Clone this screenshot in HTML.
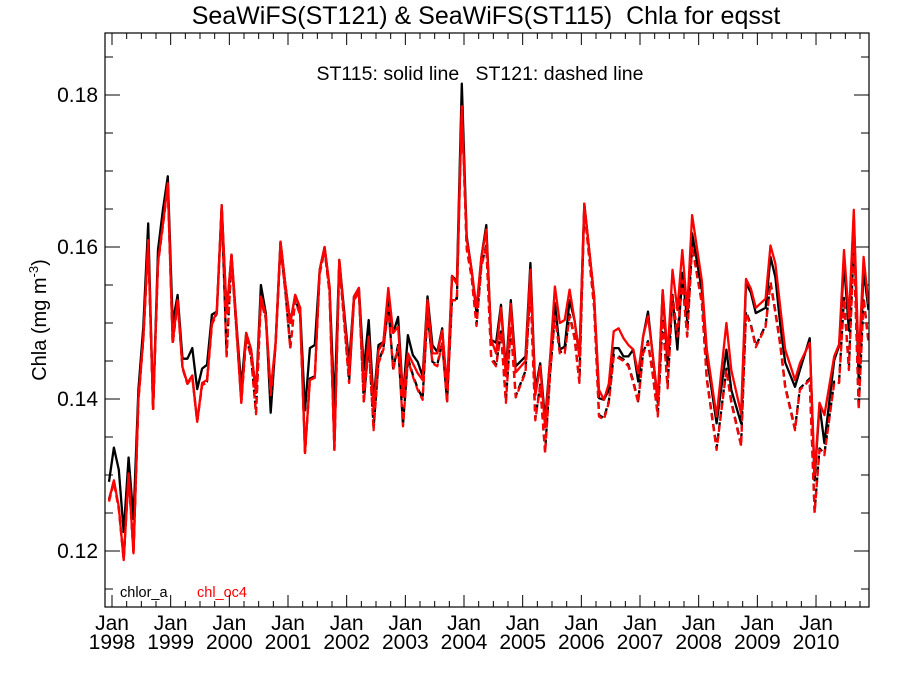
<!DOCTYPE html>
<html><head><meta charset="utf-8"><style>
html,body{margin:0;padding:0;background:#fff;}
svg{display:block;font-family:"Liberation Sans",Arial,sans-serif;}
</style></head><body>
<svg id="chart" width="900" height="675" viewBox="0 0 900 675" xmlns="http://www.w3.org/2000/svg">
<rect x="0" y="0" width="900" height="675" fill="#fff"/>
<text x="486" y="24" font-size="25" text-anchor="middle" fill="#000" xml:space="preserve">SeaWiFS(ST121) &amp; SeaWiFS(ST115)  Chla for eqsst</text>
<text x="480" y="80" font-size="19.5" text-anchor="middle" fill="#000" xml:space="preserve">ST115: solid line   ST121: dashed line</text>
<text transform="translate(46,320) rotate(-90)" font-size="20" text-anchor="middle" fill="#000">Chla (mg m<tspan font-size="13" dy="-8">-3</tspan><tspan dy="8">)</tspan></text>
<text x="120" y="597" font-size="14.5" fill="#000">chlor_a</text>
<text x="197" y="597" font-size="14.5" fill="#f00">chl_oc4</text>
<defs><clipPath id="plotclip"><rect x="105" y="33" width="764" height="574"/></clipPath></defs>
<g id="axes"></g>
<g id="series" clip-path="url(#plotclip)"></g>
<rect x="105" y="33" width="764" height="574" fill="none" stroke="#000" stroke-width="1.2"/>
</svg>
<script>
const yTicks = [0.12, 0.14, 0.16, 0.18];
const yTickLabels = ["0.12", "0.14", "0.16", "0.18"];
const yearLabels = ["1998","1999","2000","2001","2002","2003","2004","2005","2006","2007","2008","2009","2010"];
const months = [0,1,2,3,4,5,6,7,8,9,10,11,12,13,14,15,16,17,18,19,20,21,22,23,
24,25,26,27,28,29,30,31,32,33,34,35,36,37,38,39,40,41,42,43,44,45,46,47,
49,50,51,52,53,54,55,56,57,58,59,60,61,62,63,64,65,66,67,68,69,70,71,
72,73,74,75,76,77,78,79,80,81,82,83,85,86,87,88,89,90,91,92,93,94,
95,96,97,99,100,101,102,103,104,105,106,107,108,109,110,111,112,113,114,115,116,117,118,119,
121,122,124,126,127,129,130,131,132,134,135,136,137,138,140,141,143,144,145,146,148,149,150,151,152,153,154,155];
const st115Chlora = [.1291,.1336,.1307,.1225,.1323,.1242,.1412,.1495,.1631,.1387,.1596,.1649,.1693,.1500,.1537,.1453,.1453,.1467,.1413,.1440,.1445,.1511,.1515,.1655,
.1513,.159,.150,.1416,.1487,.1465,.1408,.155,.1513,.1382,.1474,.1607,.155,.150,.1537,.152,.1385,.1467,.1471,.157,.160,.1548,.139,.1583,
.1447,.1535,.1546,.1438,.1504,.1396,.1471,.1475,.153,.1487,.1508,.1403,.1484,.1458,.1449,.143,.1535,.1471,.1462,.1493,.1405,.1562,.1555,
.1815,.1614,.157,.1513,.1587,.1629,.1478,.1474,.1524,.1438,.153,.1443,.1456,.1579,.1412,.1447,.1372,.1451,.1526,.1465,.1469,.153,
.1504,.1456,.1657,.1535,.1401,.1399,.1412,.1467,.1467,.1456,.1456,.1465,.1423,.1482,.1515,.1456,.1395,.1543,.1445,.1535,.1465,.1566,.1504,.1618,
.1543,.1456,.1368,.1465,.1412,.1368,.1552,.154,.1513,.152,.1587,.156,.1497,.1448,.1416,.1438,.148,.1293,.1392,.1342,.1451,.147,.1579,.149,.164,.1425,.157,.1517];
const st115Oc4 = [.1267,.1293,.1258,.1188,.1302,.1197,.1400,.1480,.1609,.1387,.1580,.1630,.1684,.1475,.1530,.1442,.1421,.1431,.1370,.1421,.1425,.1500,.1515,.1655,
.1513,.159,.150,.1395,.1487,.1465,.1408,.1535,.151,.1411,.1474,.1607,.155,.150,.1537,.152,.1329,.1425,.1428,.157,.160,.1548,.1333,.1583,
.1434,.1535,.1546,.1412,.1482,.1386,.1464,.1475,.1546,.1487,.1495,.1403,.146,.1447,.1434,.1425,.153,.146,.146,.149,.1416,.1562,.1551,
.1785,.161,.157,.152,.1587,.1623,.1478,.146,.152,.143,.1525,.1435,.145,.157,.1405,.1443,.1363,.1451,.1548,.150,.1504,.1544,
.1504,.1456,.1657,.1535,.1412,.1399,.142,.1489,.1493,.148,.1471,.1465,.1434,.1482,.1509,.1456,.14,.1543,.1458,.157,.1517,.1596,.1517,.1642,
.1555,.1465,.1377,.150,.1438,.1381,.1558,.1545,.152,.1532,.1602,.1578,.152,.1465,.1425,.1447,.1474,.130,.1395,.1379,.1456,.1472,.1596,.1506,.1649,.1447,.1587,.1525];
const st121Chlora = [.1268,.1292,.1256,.1190,.1301,.1198,.1399,.1479,.1606,.1387,.1579,.1629,.1682,.1473,.1529,.1441,.1420,.1429,.1371,.1419,.1423,.1499,.1513,.1652,
.1458,.1586,.1492,.1397,.1481,.1456,.1382,.1532,.1507,.1406,.1471,.1602,.1542,.1468,.1532,.1512,.1331,.1427,.1430,.1566,.1596,.1542,.1335,.1580,
.1423,.1531,.1541,.1397,.1475,.1362,.1449,.1467,.1522,.1440,.1471,.1366,.1454,.1432,.1414,.1401,.1515,.1449,.1445,.1475,.1397,.1532,.1532,
.1790,.1599,.1562,.1498,.1577,.1602,.1455,.1445,.1489,.1397,.1497,.1404,.1437,.1547,.1374,.1419,.1331,.1432,.1511,.1462,.1462,.1511,
.1482,.1423,.1652,.1522,.1379,.1375,.1397,.1458,.1456,.1452,.1445,.1423,.1397,.1462,.1476,.1432,.1379,.1506,.1416,.1537,.1484,.1558,.1484,.1603,
.1527,.1427,.1335,.1440,.1397,.1340,.1515,.1498,.1470,.1497,.1554,.1515,.1472,.1417,.1361,.1414,.1427,.1252,.1335,.1328,.1423,.1423,.1533,.1440,.1607,.1388,.1533,.1476];
const st121Oc4 = [.1265,.1290,.1255,.1188,.1300,.1197,.1398,.1478,.1605,.1387,.1578,.1628,.1680,.1472,.1528,.1440,.1420,.1428,.1370,.1418,.1422,.1498,.1512,.1650,
.1456,.1585,.149,.1395,.148,.1455,.138,.153,.1505,.1405,.147,.160,.154,.1466,.153,.151,.1329,.1425,.1428,.1565,.1595,.154,.1333,.158,
.1421,.153,.154,.1395,.1473,.1359,.1447,.1465,.152,.1438,.1469,.1364,.1452,.143,.1412,.1399,.1513,.1447,.1443,.1473,.1395,.153,.153,
.1785,.1597,.156,.1496,.1575,.160,.1452,.1443,.1487,.1395,.1495,.1402,.1435,.1545,.1372,.1417,.1329,.143,.1509,.146,.146,.1509,
.148,.1421,.165,.152,.1377,.1373,.1395,.1456,.1454,.145,.1443,.1421,.1395,.146,.1474,.143,.1377,.1504,.1414,.1535,.1482,.1556,.1482,.1601,
.1525,.1425,.1333,.1438,.1395,.1338,.1513,.1496,.1468,.1495,.1552,.1513,.147,.1415,.1359,.1412,.1425,.125,.1333,.1326,.1421,.1421,.1531,.1438,.1605,.1386,.1531,.1474];

const NS = "http://www.w3.org/2000/svg";
const X0 = 105, X1 = 869, Y0 = 33, Y1 = 607;
function xData(m){ return 109 + m * 4.9; }
function xTick(m){ return 112 + m * 4.889; }
function yScale(v){ return 551 - (v - 0.12) * 7600; }
function mk(tag, attrs, parent){
  const e = document.createElementNS(NS, tag);
  for (const k in attrs) e.setAttribute(k, attrs[k]);
  parent.appendChild(e);
  return e;
}
const axes = document.getElementById('axes');
const series = document.getElementById('series');

for (let m = 0; xTick(m) <= X1; m += 3) {
  const x = xTick(m);
  const major = (m % 12 === 0);
  const len = major ? 12 : 6;
  const t1 = mk('line', {x1:x, x2:x, y1:Y1, y2:Y1-len, stroke:'#000', 'stroke-width':1}, axes);
  
  
  const t2 = mk('line', {x1:x, x2:x, y1:Y0, y2:Y0+len, stroke:'#000', 'stroke-width':1}, axes);
  
  
  if (major) {
    const yi = m / 12;
    const lab = mk('text', {x:x, y:630, 'font-size':21, 'text-anchor':'middle', fill:'#000'}, axes);
    
    
    const ts1 = mk('tspan', {x:x, dy:0}, lab); ts1.textContent = 'Jan';
    const ts2 = mk('tspan', {x:x, dy:19}, lab); ts2.textContent = yearLabels[yi];
  }
}
for (let k = 0; k <= 15; k++) {
  const v = 0.115 + k * 0.005;
  const y = yScale(v);
  if (y < Y0 || y > Y1) continue;
  const major = Math.abs(((v - 0.12) / 0.02) - Math.round((v - 0.12) / 0.02)) < 1e-6;
  const len = major ? 15 : 8;
  const t1 = mk('line', {x1:X0, x2:X0+len, y1:y, y2:y, stroke:'#000', 'stroke-width':1}, axes);
  
  
  const t2 = mk('line', {x1:X1, x2:X1-len, y1:y, y2:y, stroke:'#000', 'stroke-width':1}, axes);
  
  
}
yTicks.forEach((v, i) => {
  const lab = mk('text', {x:98, y:yScale(v)+7, 'font-size':21, 'text-anchor':'end', fill:'#000'}, axes);
  
  
  lab.textContent = yTickLabels[i];
});

function drawLine(vals, color, dash, name){
  const pts = vals.map((v, i) => xData(months[i]).toFixed(1) + ',' + yScale(v).toFixed(1)).join(' ');
  const attrs = {points:pts, fill:'none', stroke:color, 'stroke-width':2.3, 'stroke-linejoin':'round'};
  if (dash) attrs['stroke-dasharray'] = '7,4';
  const p = mk('polyline', attrs, series);
  
  
}
drawLine(st121Chlora, '#000', true, 'st121-chlor-a-line');
drawLine(st115Chlora, '#000', false, 'st115-chlor-a-line');
drawLine(st115Oc4, '#f00', false, 'st115-chl-oc4-line');
drawLine(st121Oc4, '#f00', true, 'st121-chl-oc4-line');
</script>
</body></html>
